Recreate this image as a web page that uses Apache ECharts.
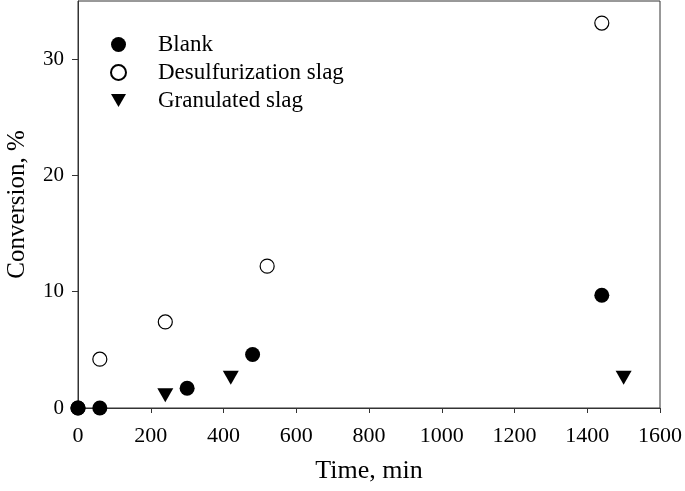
<!DOCTYPE html>
<html>
<head>
<meta charset="utf-8">
<script src="https://cdn.jsdelivr.net/npm/echarts@6/dist/echarts.min.js"></script>
<style>html,body{margin:0;padding:0;background:#fff;}#c{width:685px;height:491px;}</style>
</head>
<body>
<div id="c"></div>
<script>
const blankTime = [0, 60, 300, 480, 1440];
const blankConv = [0, 0, 1.7, 4.6, 9.7];
const desulfTime = [0, 60, 240, 520, 1440];
const desulfConv = [0, 4.2, 7.4, 12.2, 33.1];
const granTime = [0, 65, 240, 420, 1500];
const granConv = [-0.1, -0.1, 1.1, 2.6, 2.6];
const xTicks = [0, 200, 400, 600, 800, 1000, 1200, 1400, 1600];
const yTicks = [0, 10, 20, 30];

const font = 'Liberation Serif';
const pair = (xs, ys) => xs.map((x, i) => [x, ys[i]]);
const downTri = 'path://M0,0 L16,0 L8,14 Z';
const chart = echarts.init(document.getElementById('c'), null, {renderer: 'canvas'});
chart.setOption({
  animation: false,
  backgroundColor: '#fff',
  grid: {left: 78, right: 25, top: 1, bottom: 83, show: true, borderColor: '#333', borderWidth: 1,
    backgroundColor: 'transparent', containLabel: false, outerBoundsMode: 'none'},
  legend: {
    orient: 'vertical', left: 105, top: 28, itemWidth: 15, itemHeight: 15, itemGap: 5,
    textStyle: {fontFamily: font, fontSize: 23, color: '#000', lineHeight: 23, padding: [0, 0, 0, 27]},
    data: [
      {name: 'Blank', icon: 'circle'},
      {name: 'Desulfurization slag', icon: 'circle'},
      {name: 'Granulated slag', icon: downTri}
    ]
  },
  xAxis: {
    type: 'value', min: 0, max: 1600, interval: 200,
    name: 'Time, min', nameLocation: 'middle', nameGap: 50,
    nameTextStyle: {fontFamily: font, fontSize: 26, color: '#000'},
    axisLine: {show: true, onZero: false, lineStyle: {color: '#333', width: 1}},
    axisTick: {show: true, inside: false, length: 5, lineStyle: {color: '#333'}, customValues: xTicks},
    axisLabel: {fontFamily: font, fontSize: 22, color: '#000', margin: 17, customValues: xTicks,
      formatter: v => String(v)},
    splitLine: {show: false}
  },
  yAxis: {
    type: 'value', min: 0, max: 35, interval: 10,
    name: 'Conversion, %', nameLocation: 'middle', nameGap: 48,
    nameTextStyle: {fontFamily: font, fontSize: 25, color: '#000'},
    axisLine: {show: true, onZero: false, lineStyle: {color: '#333', width: 1}},
    axisTick: {show: true, inside: false, length: 6, lineStyle: {color: '#333'}, customValues: yTicks},
    axisLabel: {fontFamily: font, fontSize: 21, color: '#000', margin: 14, customValues: yTicks,
      formatter: v => String(v)},
    splitLine: {show: false}
  },
  series: [
    {name: 'Blank', type: 'scatter', data: pair(blankTime, blankConv), symbol: 'circle', symbolSize: 15,
      itemStyle: {color: '#000', opacity: 1}, z: 3},
    {name: 'Desulfurization slag', type: 'scatter', data: pair(desulfTime, desulfConv), symbol: 'circle', symbolSize: 14,
      itemStyle: {color: '#fff', borderColor: '#000', borderWidth: 1.2, opacity: 1}, z: 2},
    {name: 'Granulated slag', type: 'scatter', data: pair(granTime, granConv), symbol: downTri, symbolSize: [16, 14],
      itemStyle: {color: '#000', opacity: 1}, z: 4}
  ]
});
</script>
</body>
</html>
